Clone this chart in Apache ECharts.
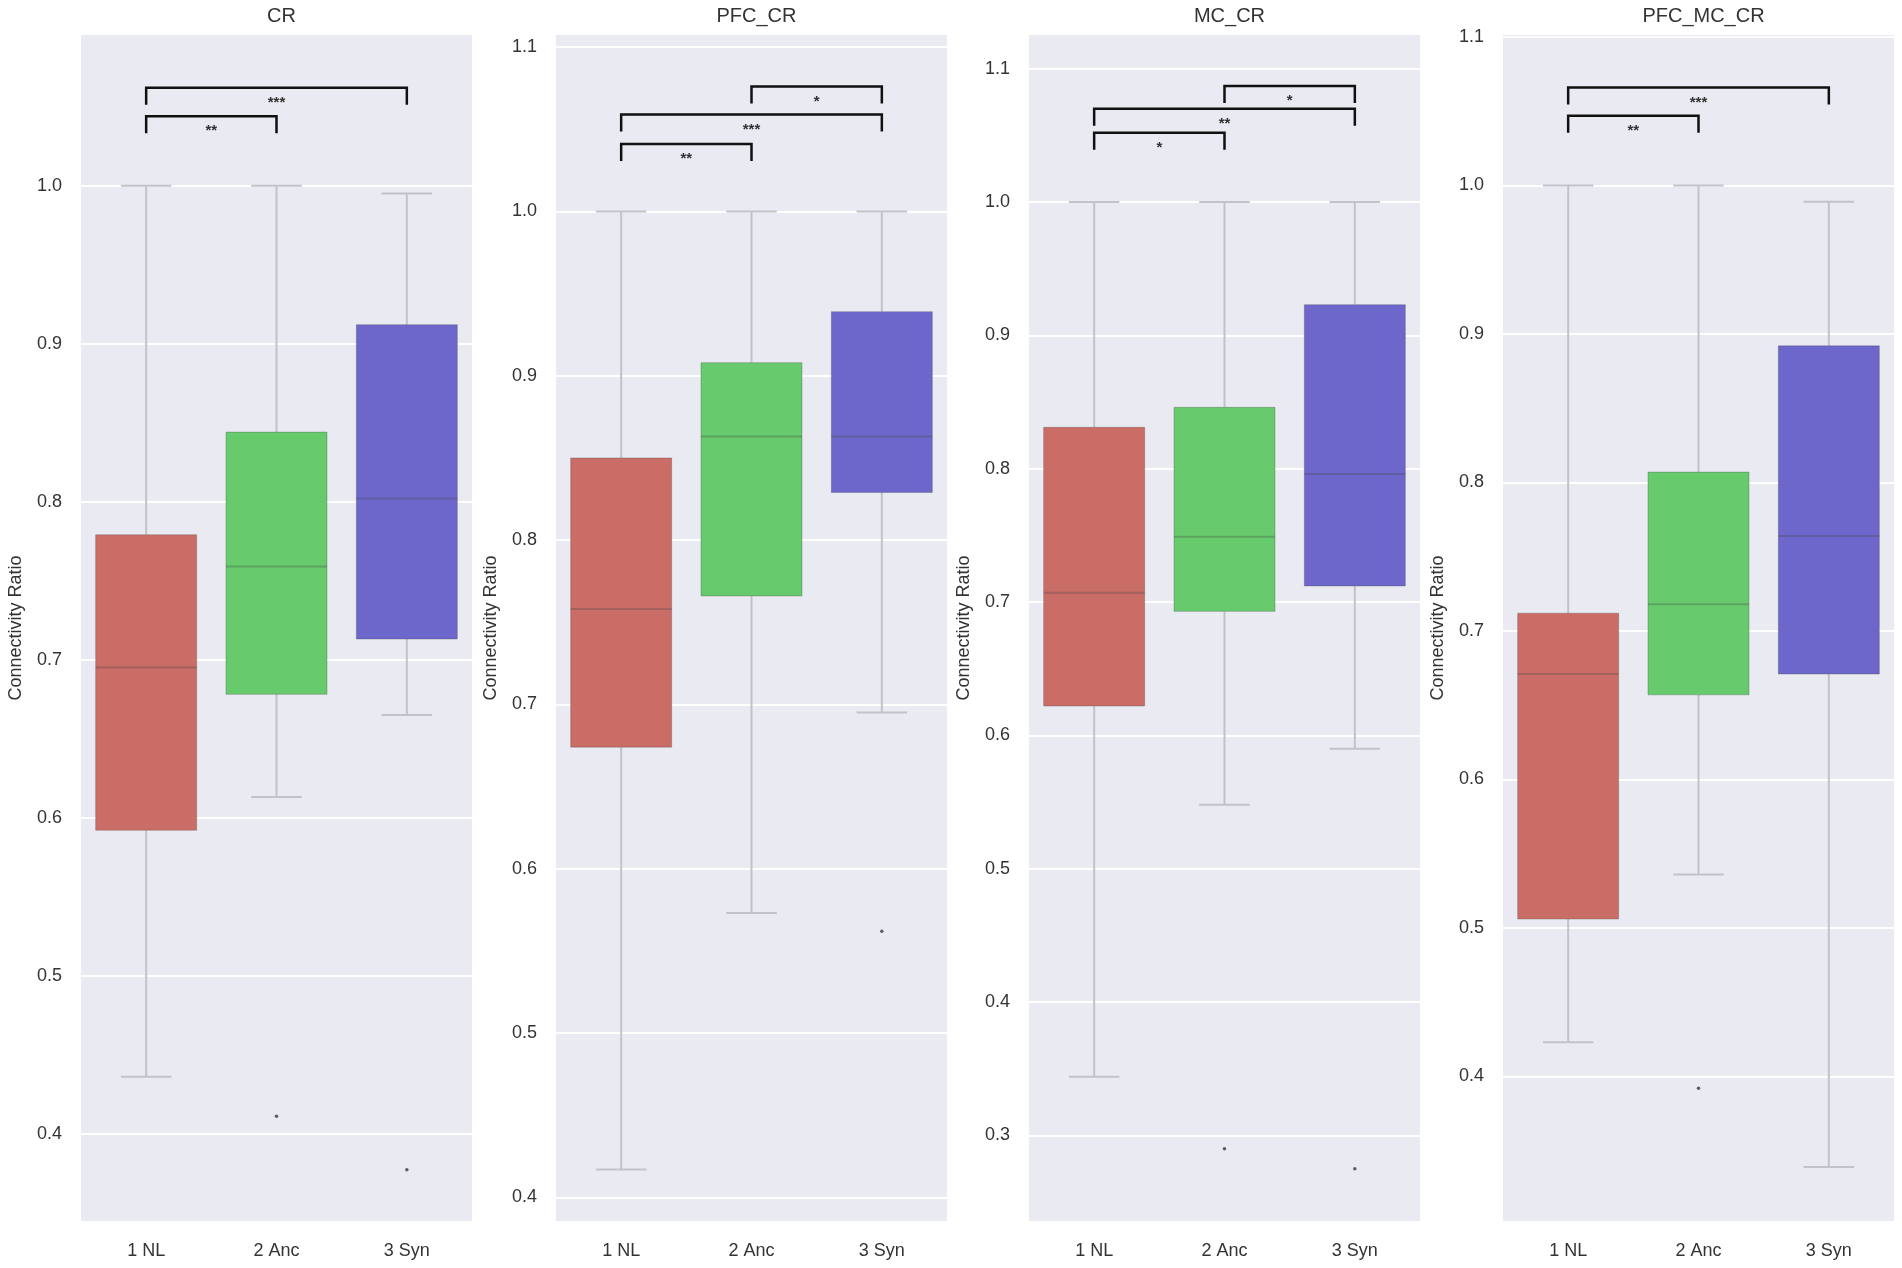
<!DOCTYPE html>
<html>
<head>
<meta charset="utf-8">
<script src="https://cdn.jsdelivr.net/npm/echarts@6/dist/echarts.min.js"></script>
<style>
  html, body { margin: 0; padding: 0; background: #fff; }
  #main { width: 1902px; height: 1268px; }
</style>
</head>
<body>
<div id="main"></div>
<script>
var categories = ['1 NL', '2 Anc', '3 Syn'];
var panelTitles = ['CR', 'PFC_CR', 'MC_CR', 'PFC_MC_CR'];

// per category: [lower whisker, Q1, median, Q3, upper whisker]
var crBox = [[0.436, 0.592, 0.695, 0.779, 1.0], [0.613, 0.678, 0.759, 0.844, 1.0], [0.665, 0.713, 0.802, 0.912, 0.995]];
var pfcBox = [[0.417, 0.674, 0.758, 0.850, 1.0], [0.573, 0.766, 0.863, 0.908, 1.0], [0.695, 0.829, 0.863, 0.939, 1.0]];
var mcBox = [[0.344, 0.622, 0.707, 0.831, 1.0], [0.548, 0.693, 0.749, 0.846, 1.0], [0.590, 0.712, 0.796, 0.923, 1.0]];
var pfcMcBox = [[0.423, 0.506, 0.671, 0.712, 1.0], [0.536, 0.657, 0.718, 0.807, 1.0], [0.339, 0.671, 0.764, 0.892, 0.989]];

// outliers: [category index, value]
var crOut = [[1, 0.411], [2, 0.377]];
var pfcOut = [[2, 0.562]];
var mcOut = [[1, 0.290], [2, 0.275]];
var pfcMcOut = [[1, 0.392]];

// significance brackets: [from, to, height, stars]
var crSig = [[0, 2, 1.062, '***'], [0, 1, 1.044, '**']];
var pfcSig = [[1, 2, 1.076, '*'], [0, 2, 1.059, '***'], [0, 1, 1.041, '**']];
var mcSig = [[1, 2, 1.087, '*'], [0, 2, 1.070, '**'], [0, 1, 1.052, '*']];
var pfcMcSig = [[0, 2, 1.066, '***'], [0, 1, 1.047, '**']];

var yMin = [0.344, 0.385, 0.235, 0.302];
var yMax = [1.096, 1.108, 1.126, 1.102];

var boxes = [crBox, pfcBox, mcBox, pfcMcBox];
var outs = [crOut, pfcOut, mcOut, pfcMcOut];
var sigs = [crSig, pfcSig, mcSig, pfcMcSig];

var colors = ['#cb6d67', '#67cb6d', '#6d67cb'];
var lefts = [81, 556, 1029, 1503];
var gridW = 391, gridTop = 34, gridH = 1188;
var font = 'Liberation Sans, Arial, sans-serif';
var textColor = '#333';

function boxRenderer(p) {
    return function (params, api) {
        var x = api.value(0);
        var lo = api.coord([x, api.value(1)]);
        var q1 = api.coord([x, api.value(2)]);
        var md = api.coord([x, api.value(3)]);
        var q3 = api.coord([x, api.value(4)]);
        var hi = api.coord([x, api.value(5)]);
        var band = api.size([1, 0])[0];
        var bw = band * 0.775, cw = bw * 0.5;
        var cx = lo[0];
        var wStyle = { stroke: '#c2c2c9', lineWidth: 2 };
        var edge = 'rgba(70,70,70,0.3)';
        return {
            type: 'group',
            children: [
                { type: 'line', shape: { x1: cx, y1: hi[1], x2: cx, y2: q3[1] }, style: wStyle },
                { type: 'line', shape: { x1: cx, y1: q1[1], x2: cx, y2: lo[1] }, style: wStyle },
                { type: 'line', shape: { x1: cx - cw / 2, y1: hi[1], x2: cx + cw / 2, y2: hi[1] }, style: wStyle },
                { type: 'line', shape: { x1: cx - cw / 2, y1: lo[1], x2: cx + cw / 2, y2: lo[1] }, style: wStyle },
                { type: 'rect', shape: { x: cx - bw / 2, y: q3[1], width: bw, height: q1[1] - q3[1] },
                  style: { fill: colors[x], stroke: edge, lineWidth: 1 } },
                { type: 'line', shape: { x1: cx - bw / 2, y1: md[1], x2: cx + bw / 2, y2: md[1] },
                  style: { stroke: edge, lineWidth: 2 } }
            ]
        };
    };
}

function sigRenderer(p) {
    return function (params, api) {
        var br = sigs[p][params.dataIndex];
        var a = api.coord([br[0], br[2]]);
        var b = api.coord([br[1], br[2]]);
        var drop = 17;
        return {
            type: 'group',
            children: [
                { type: 'polyline', shape: { points: [[a[0], a[1] + drop], [a[0], a[1]], [b[0], b[1]], [b[0], b[1] + drop]] },
                  style: { stroke: '#111', lineWidth: 2.5, fill: null } },
                { type: 'text', x: (a[0] + b[0]) / 2, y: a[1] + 15,
                  style: { text: br[3], fill: '#333', font: 'bold 15px ' + font, align: 'center', verticalAlign: 'middle' } }
            ]
        };
    };
}

var grid = [], xAxis = [], yAxis = [], series = [], title = [];
for (var p = 0; p < 4; p++) {
    grid.push({ left: lefts[p], top: gridTop, width: gridW, height: gridH, show: true,
        backgroundColor: '#eaeaf2', borderWidth: 0 });
    title.push({ text: panelTitles[p], left: lefts[p] + gridW / 2, textAlign: 'center', top: 1,
        textStyle: { fontFamily: font, fontSize: 20, fontWeight: 'normal', color: textColor } });
    xAxis.push({ type: 'category', gridIndex: p, data: categories, boundaryGap: true,
        axisLine: { show: false }, axisTick: { show: false }, splitLine: { show: false },
        axisLabel: { fontFamily: font, fontSize: 18, color: textColor, margin: 20 } });
    yAxis.push({ type: 'value', gridIndex: p, min: yMin[p], max: yMax[p], splitNumber: 8,
        minInterval: 0.1, maxInterval: 0.1,
        name: 'Connectivity Ratio', nameLocation: 'middle', nameGap: 56,
        nameTextStyle: { fontFamily: font, fontSize: 18, color: textColor },
        axisLine: { show: false }, axisTick: { show: false },
        splitLine: { show: true, lineStyle: { color: '#ffffff', width: 2 } },
        axisLabel: { fontFamily: font, fontSize: 18, color: textColor, margin: 19,
            formatter: function (v) {
                return Math.abs(v * 10 - Math.round(v * 10)) < 1e-6 ? v.toFixed(1) : '';
            } } });
    series.push({
        type: 'custom', xAxisIndex: p, yAxisIndex: p,
        renderItem: boxRenderer(p),
        encode: { x: 0, y: [1, 2, 3, 4, 5] },
        data: boxes[p].map(function (b, i) { return [i].concat(b); }),
        silent: true, z: 2
    });
    series.push({
        type: 'scatter', xAxisIndex: p, yAxisIndex: p, data: outs[p],
        symbol: 'circle', symbolSize: 3.5, itemStyle: { color: '#3a3a3a' }, silent: true, z: 3
    });
    series.push({
        type: 'custom', xAxisIndex: p, yAxisIndex: p,
        renderItem: sigRenderer(p),
        encode: { x: [0, 1], y: 2 },
        data: sigs[p].map(function (s) { return [s[0], s[1], s[2]]; }),
        silent: true, z: 4
    });
}

echarts.init(document.getElementById('main')).setOption({
    backgroundColor: '#ffffff',
    animation: false,
    title: title,
    grid: grid,
    xAxis: xAxis,
    yAxis: yAxis,
    series: series
});
</script>
</body>
</html>
